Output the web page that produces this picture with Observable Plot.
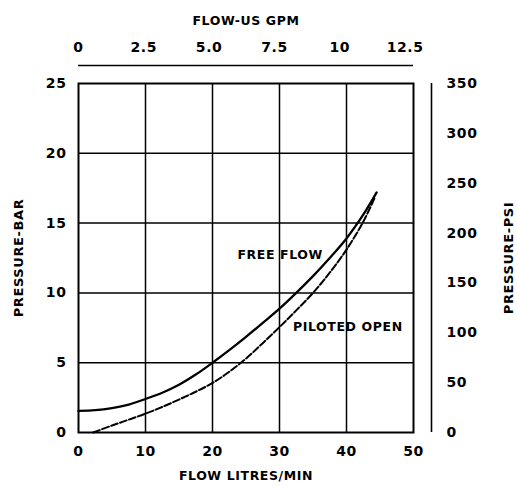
<!DOCTYPE html>
<html>
<head>
<meta charset="utf-8">
<script src="https://cdn.jsdelivr.net/npm/d3@7"></script>
<script src="https://cdn.jsdelivr.net/npm/@observablehq/plot@0.6"></script>
<style>
  html, body { margin: 0; padding: 0; background: #fff; }
  #chart svg { display: block; }
</style>
</head>
<body>
<div id="chart"></div>
<script>
// Flow in litres/min and pressure in bar
const freeFlowLpm = [0, 2.5, 5, 7.5, 10, 12.5, 15, 17.5, 20, 22.5, 25, 27.5, 30, 32.5, 35, 37.5, 40, 42.5, 44.5];
const freeFlowBar = [1.55, 1.6, 1.75, 2.0, 2.4, 2.85, 3.42, 4.15, 5.0, 5.9, 6.85, 7.85, 8.87, 10.0, 11.2, 12.5, 13.9, 15.6, 17.2];
const pilotedLpm = [2.2, 5, 7.5, 10, 12.5, 15, 17.5, 20, 22.5, 25, 27.5, 30, 32.5, 35, 37.5, 40, 42.5, 44.2];
const pilotedBar = [0, 0.5, 0.92, 1.35, 1.83, 2.36, 2.92, 3.55, 4.35, 5.3, 6.4, 7.55, 8.75, 10.0, 11.45, 13.1, 15.1, 16.8];

const xTicks = [0, 10, 20, 30, 40, 50];
const yTicks = [0, 5, 10, 15, 20, 25];
const xGrid = [10, 20, 30, 40];
const yGrid = [5, 10, 15, 20];
const gpmTicks = [0, 2.5, 5.0, 7.5, 10, 12.5];
const gpmLabels = ["0", "2.5", "5.0", "7.5", "10", "12.5"];
const psiTicks = [0, 50, 100, 150, 200, 250, 300, 350];

const LPM_PER_GPM = 3.9;      // as drawn on the sheet
const BAR_PER_PSI = 25 / 350; // as drawn on the sheet

const freeFlow = freeFlowLpm.map((x, i) => ({x, y: freeFlowBar[i]}));
const piloted = pilotedLpm.map((x, i) => ({x, y: pilotedBar[i]}));
const gpm = gpmTicks.map((g, i) => ({x: g * LPM_PER_GPM, label: gpmLabels[i]}));
const psi = psiTicks.map(p => ({y: p * BAR_PER_PSI, label: String(p)}));

const font = "'DejaVu Sans', sans-serif";

const chart = Plot.plot({
  width: 517,
  height: 486,
  marginLeft: 78,
  marginRight: 104,
  marginTop: 83,
  marginBottom: 54,
  style: {fontFamily: font, fontSize: "12px", fontWeight: "bold", color: "#000", background: "#fff", letterSpacing: "0.6px"},
  x: {domain: [0, 50]},
  y: {domain: [0, 25]},
  marks: [
    Plot.ruleX(xGrid, {stroke: "#000", strokeWidth: 1.5}),
    Plot.ruleY(yGrid, {stroke: "#000", strokeWidth: 1.5}),
    Plot.frame({stroke: "#000", strokeWidth: 2}),
    // top GPM axis line and right PSI axis line
    Plot.ruleY([25], {x1: 0, x2: 50, dy: -18, stroke: "#000", strokeWidth: 1.6, clip: false}),
    Plot.ruleX([50], {y1: 0, y2: 25, dx: 18, stroke: "#000", strokeWidth: 1.6, clip: false}),
    Plot.axisX(xTicks, {anchor: "bottom", tickSize: 0, tickPadding: 14, label: null, fontSize: 14}),
    Plot.axisY(yTicks, {anchor: "left", tickSize: 0, tickPadding: 12, label: null, fontSize: 14}),
    Plot.text(gpm, {x: "x", text: "label", frameAnchor: "top", dy: -36, fontSize: 14, lineAnchor: "middle"}),
    Plot.text(psi, {y: "y", text: "label", frameAnchor: "right", dx: 33, textAnchor: "start", fontSize: 14}),
    Plot.line(freeFlow, {x: "x", y: "y", curve: "catmull-rom", stroke: "#000", strokeWidth: 2.3}),
    Plot.line(piloted, {x: "x", y: "y", curve: "catmull-rom", stroke: "#000", strokeWidth: 2, strokeDasharray: "7,2.5"}),
    Plot.text(["FREE FLOW"], {x: 30.1, y: 12.7, text: d => d, fontSize: 12.5}),
    Plot.text(["PILOTED OPEN"], {x: 40.2, y: 7.55, text: d => d, fontSize: 12.5}),
    // axis titles
    Plot.text(["FLOW-US GPM"], {frameAnchor: "top", dy: -67, text: d => d, fontSize: 12.5}),
    Plot.text(["FLOW LITRES/MIN"], {frameAnchor: "bottom", dy: 47, text: d => d, fontSize: 12.5, letterSpacing: "2px"}),
    Plot.text(["PRESSURE-BAR"], {frameAnchor: "left", dx: -60, rotate: -90, textAnchor: "middle", text: d => d, fontSize: 13, letterSpacing: "1.6px"}),
    Plot.text(["PRESSURE-PSI"], {frameAnchor: "right", dx: 95, rotate: -90, textAnchor: "middle", text: d => d, fontSize: 13, letterSpacing: "2px"})
  ]
});
document.getElementById("chart").appendChild(chart);
</script>
</body>
</html>
